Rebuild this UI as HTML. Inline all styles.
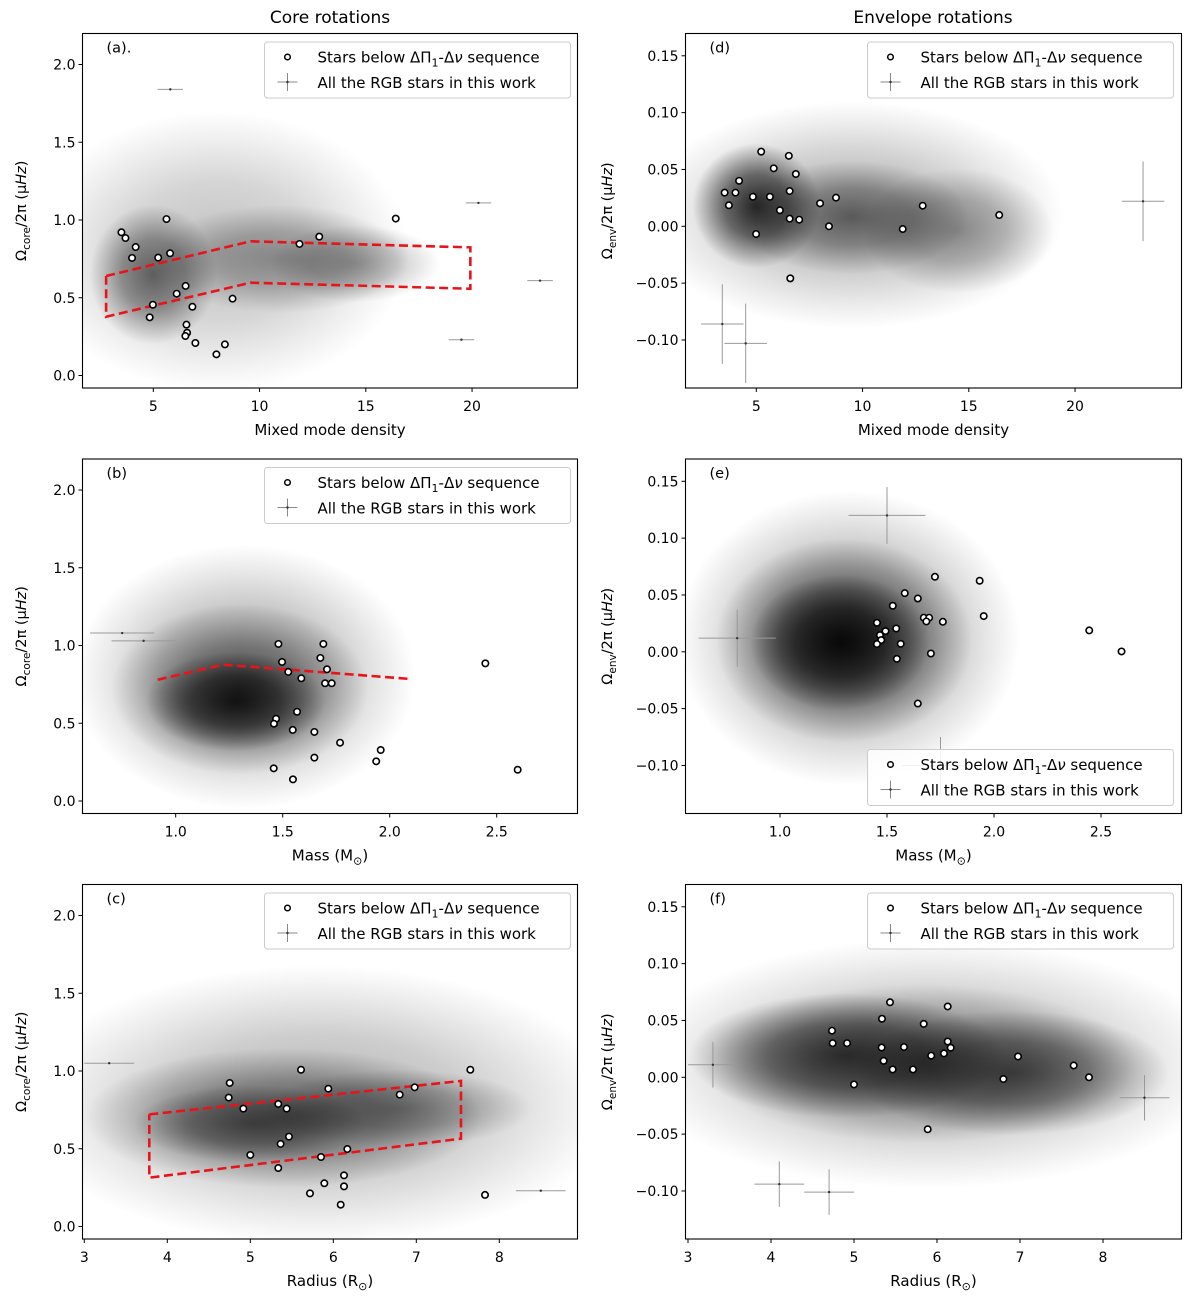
<!DOCTYPE html>
<html><head><meta charset="utf-8"><style>
html,body{margin:0;padding:0;background:#fff;}
svg{display:block;font-family:"DejaVu Sans","Liberation Sans",sans-serif;}
</style></head><body>
<svg id="fig" width="1200" height="1304" viewBox="0 0 1200 1304" xmlns="http://www.w3.org/2000/svg">
<defs>
<radialGradient id="blobGrad" cx="50%" cy="50%" r="50%">
<stop offset="0" stop-color="#000" stop-opacity="1"/>
<stop offset="0.5" stop-color="#000" stop-opacity="0.65"/>
<stop offset="0.8" stop-color="#000" stop-opacity="0.25"/>
<stop offset="1" stop-color="#000" stop-opacity="0"/>
</radialGradient>
</defs>
<text x="330" y="23" font-size="17" text-anchor="middle">Core rotations</text>
<text x="933" y="23" font-size="17" text-anchor="middle">Envelope rotations</text>
</svg>
<script>
// ---------- data ----------
const aStarsX = [3.5,3.69,4.17,4.0,5.62,5.23,5.79,6.1,6.52,4.98,6.84,4.83,8.73,6.56,6.59,6.51,6.98,8.37,7.97,11.88,12.81,16.41];
const aStarsY = [0.921,0.884,0.826,0.756,1.006,0.758,0.786,0.526,0.576,0.455,0.442,0.374,0.494,0.327,0.275,0.254,0.209,0.2,0.136,0.846,0.893,1.009];
const aBoundX = [2.78,9.58,19.92,19.92,9.58,2.78,2.78];
const aBoundY = [0.640,0.863,0.824,0.558,0.597,0.378,0.640];
const aCloudX = [8.0,5.0,11.0,14.5];
const aCloudY = [0.80,0.65,0.75,0.72];
const aCloudSX = [9.0,3.0,6.0,4.0];
const aCloudSY = [0.9,0.45,0.35,0.25];
const aCloudA = [0.25,0.55,0.35,0.3];
const aOutX = [23.2,20.3,19.5,5.8];
const aOutY = [0.61,1.11,0.23,1.84];

const bStarsX = [1.48,1.69,1.676,1.497,1.707,1.526,1.587,1.698,1.729,2.447,1.567,1.469,1.459,1.547,1.648,1.768,1.958,1.937,1.648,1.458,1.548,2.598];
const bStarsY = [1.01,1.01,0.92,0.894,0.847,0.83,0.789,0.757,0.757,0.885,0.574,0.529,0.497,0.457,0.444,0.375,0.328,0.255,0.279,0.21,0.139,0.201];
const bBoundX = [0.916,1.222,2.095];
const bBoundY = [0.78,0.877,0.785];
const bCloudX = [1.32,1.30,1.28];
const bCloudY = [0.80,0.72,0.64];
const bCloudSX = [0.8,0.6,0.42];
const bCloudSY = [0.85,0.55,0.32];
const bCloudA = [0.35,0.55,0.8];
const bOutX = [0.85,0.75];
const bOutY = [1.03,1.08];

const cStarsX = [5.611,7.651,4.752,5.94,6.98,6.8,4.74,4.916,5.337,5.438,5.466,5.365,6.169,5.0,5.852,5.337,6.129,5.892,6.129,5.719,7.828,6.089];
const cStarsY = [1.008,1.008,0.923,0.886,0.895,0.848,0.829,0.758,0.788,0.758,0.578,0.531,0.498,0.46,0.447,0.376,0.329,0.278,0.258,0.213,0.203,0.14];
const cBoundX = [3.783,7.538,7.538,3.783,3.783];
const cBoundY = [0.721,0.936,0.565,0.314,0.721];
const cCloudX = [5.8,5.4,5.0,6.8];
const cCloudY = [0.78,0.70,0.66,0.76];
const cCloudSX = [3.6,2.4,1.4,1.6];
const cCloudSY = [0.9,0.45,0.25,0.25];
const cCloudA = [0.3,0.5,0.45,0.35];
const cOutX = [3.3,8.5];
const cOutY = [1.05,0.23];

const dStarsX = [5.23,5.82,6.53,6.86,4.19,3.51,4.02,3.71,4.84,5.64,6.57,6.11,6.57,7.02,8.0,8.75,8.42,4.99,6.6,11.89,12.83,16.43];
const dStarsY = [0.0657,0.051,0.062,0.046,0.040,0.0296,0.0296,0.0185,0.026,0.026,0.031,0.0141,0.0067,0.0058,0.0202,0.0252,0.0,-0.0068,-0.0458,-0.0024,0.0181,0.0099];
const dCloudX = [9.5,5.0,9.5,14.5];
const dCloudY = [0.01,0.018,0.008,-0.004];
const dCloudSX = [10.0,3.0,5.5,4.5];
const dCloudSY = [0.1,0.055,0.05,0.055];
const dCloudA = [0.3,0.8,0.5,0.35];
const dOutX = [23.2,3.4,4.5];
const dOutY = [0.022,-0.086,-0.103];

const eStarsX = [1.724,1.933,1.583,1.644,1.527,1.672,1.697,1.684,1.761,1.952,1.453,1.543,1.493,1.467,1.473,1.453,1.564,1.705,1.546,1.644,2.445,2.596];
const eStarsY = [0.066,0.0625,0.0516,0.0469,0.0405,0.030,0.030,0.0267,0.0264,0.0314,0.0255,0.0205,0.0182,0.0147,0.0103,0.0068,0.007,-0.0015,-0.0062,-0.0455,0.0188,0.0003];
const eCloudX = [1.32,1.30,1.28];
const eCloudY = [0.012,0.010,0.008];
const eCloudSX = [0.8,0.6,0.42];
const eCloudSY = [0.13,0.09,0.06];
const eCloudA = [0.4,0.65,0.85];
const eOutX = [0.8,1.75,1.5];
const eOutY = [0.012,-0.1,0.12];

const fStarsX = [5.434,6.129,5.337,5.84,4.735,4.743,4.916,5.333,5.602,6.129,6.165,6.084,5.93,5.357,5.466,5.711,6.976,7.647,7.831,6.8,5.0,5.888];
const fStarsY = [0.066,0.0623,0.0515,0.047,0.041,0.030,0.030,0.0262,0.0266,0.0315,0.026,0.021,0.019,0.0145,0.0069,0.0069,0.0183,0.0104,0.0,-0.0015,-0.0063,-0.0457];
const fCloudX = [5.9,4.9,6.9,5.8];
const fCloudY = [0.012,0.019,0.004,0.012];
const fCloudSX = [3.6,1.9,1.9,2.6];
const fCloudSY = [0.11,0.055,0.055,0.07];
const fCloudA = [0.3,0.7,0.6,0.4];
const fOutX = [3.3,8.5,4.1,4.7];
const fOutY = [0.011,-0.018,-0.094,-0.101];

const leftTicks = ["0.0","0.5","1.0","1.5","2.0"];
const leftTickVals = [0,0.5,1.0,1.5,2.0];
const rightTicks = ["\u22120.10","\u22120.05","0.00","0.05","0.10","0.15"];
const rightTickVals = [-0.10,-0.05,0,0.05,0.10,0.15];
const mmdTicks = [5,10,15,20];
const massTicks = [1.0,1.5,2.0,2.5];
const radTicks = [3,4,5,6,7,8];

// ---------- rendering ----------
const NS = "http://www.w3.org/2000/svg";
const svg = document.getElementById("fig");
function mk(tag, attrs, parent){
  const e = document.createElementNS(NS, tag);
  for (const k in attrs) e.setAttribute(k, attrs[k]);
  (parent||svg).appendChild(e);
  return e;
}
const panels = [
 {id:"a",L:82.5,T:33.5,W:495,H:354.5,xv0:5,xp0:70.8,xk:21.25,yv0:0,yp0:342,yk:155.5,stars:[aStarsX,aStarsY],cloud:[aCloudX,aCloudY,aCloudSX,aCloudSY,aCloudA],out:[aOutX,aOutY],bound:[aBoundX,aBoundY],yt:leftTicks,ytv:leftTickVals,xt:mmdTicks,xfmt:v=>String(v),xlab:"Mixed mode density",ylab:"core",label:"(a).",legendBottom:false,hErr:0.6,vErr:0.0},
 {id:"d",L:685.5,T:33.5,W:496,H:354.5,xv0:5,xp0:70.8,xk:21.25,yv0:0,yp0:192.8,yk:1136.7,stars:[dStarsX,dStarsY],cloud:[dCloudX,dCloudY,dCloudSX,dCloudSY,dCloudA],out:[dOutX,dOutY],bound:null,yt:rightTicks,ytv:rightTickVals,xt:mmdTicks,xfmt:v=>String(v),xlab:"Mixed mode density",ylab:"env",label:"(d)",legendBottom:false,hErr:1.0,vErr:0.035},
 {id:"b",L:82.5,T:459,W:495,H:354.5,xv0:1,xp0:93.2,xk:214,yv0:0,yp0:342,yk:155.5,stars:[bStarsX,bStarsY],cloud:[bCloudX,bCloudY,bCloudSX,bCloudSY,bCloudA],out:[bOutX,bOutY],bound:[bBoundX,bBoundY],yt:leftTicks,ytv:leftTickVals,xt:massTicks,xfmt:v=>v.toFixed(1),xlab:"Mass (M",ylab:"core",label:"(b)",legendBottom:false,hErr:0.15,vErr:0.0},
 {id:"e",L:685.5,T:459,W:496,H:354.5,xv0:1,xp0:94.5,xk:214,yv0:0,yp0:192.8,yk:1136.7,stars:[eStarsX,eStarsY],cloud:[eCloudX,eCloudY,eCloudSX,eCloudSY,eCloudA],out:[eOutX,eOutY],bound:null,yt:rightTicks,ytv:rightTickVals,xt:massTicks,xfmt:v=>v.toFixed(1),xlab:"Mass (M",ylab:"env",label:"(e)",legendBottom:true,hErr:0.18,vErr:0.025},
 {id:"c",L:82.5,T:884.5,W:495,H:354.5,xv0:4,xp0:84.8,xk:83,yv0:0,yp0:342,yk:155.5,stars:[cStarsX,cStarsY],cloud:[cCloudX,cCloudY,cCloudSX,cCloudSY,cCloudA],out:[cOutX,cOutY],bound:[cBoundX,cBoundY],yt:leftTicks,ytv:leftTickVals,xt:radTicks,xfmt:v=>String(v),xlab:"Radius (R",ylab:"core",label:"(c)",legendBottom:false,hErr:0.3,vErr:0.0},
 {id:"f",L:685.5,T:884.5,W:496,H:354.5,xv0:4,xp0:85.5,xk:83,yv0:0,yp0:192.8,yk:1136.7,stars:[fStarsX,fStarsY],cloud:[fCloudX,fCloudY,fCloudSX,fCloudSY,fCloudA],out:[fOutX,fOutY],bound:null,yt:rightTicks,ytv:rightTickVals,xt:radTicks,xfmt:v=>String(v),xlab:"Radius (R",ylab:"env",label:"(f)",legendBottom:false,hErr:0.3,vErr:0.02}
];

panels.forEach(p => {
  const X = v => p.L + p.xp0 + (v - p.xv0) * p.xk;
  const Y = v => p.T + p.yp0 - (v - p.yv0) * p.yk;
  const g = mk("g", {});
  
  
  const cp = mk("clipPath", {id: "clip-" + p.id}, g);
  mk("rect", {x:p.L, y:p.T, width:p.W, height:p.H}, cp);
  const plot = mk("g", {"clip-path": "url(#clip-" + p.id + ")"}, g);
  
  

  const [cx, cy, sx, sy, ca] = p.cloud;
  cx.forEach((v, i) => {
    const el = mk("ellipse", {cx: X(v), cy: Y(cy[i]), rx: sx[i] * p.xk, ry: sy[i] * p.yk, fill: "url(#blobGrad)", opacity: ca[i]}, plot);
    
    
  });
  const [ox, oy] = p.out;
  ox.forEach((v, i) => {
    const px = X(v), py = Y(oy[i]);
    const hw = p.hErr * p.xk, vh = p.vErr * p.yk;
    const og = mk("g", {stroke: "#999", "stroke-width": 1}, plot);
    
    
    mk("line", {x1: px - hw, y1: py, x2: px + hw, y2: py}, og);
    if (vh > 0) mk("line", {x1: px, y1: py - vh, x2: px, y2: py + vh}, og);
    mk("circle", {cx: px, cy: py, r: 1.2, fill: "#333", stroke: "none"}, og);
  });
  if (p.bound) {
    const [bx, by] = p.bound;
    const pts = bx.map((v, i) => X(v) + "," + Y(by[i])).join(" ");
    const pl = mk("polyline", {points: pts, fill: "none", stroke: "#e8141b", "stroke-width": 2.6, "stroke-dasharray": "9,4.5"}, plot);
    
    
  }
  const [stx, sty] = p.stars;
  stx.forEach((v, i) => {
    const c = mk("circle", {cx: X(v), cy: Y(sty[i]), r: 3.2, fill: "#fff", stroke: "#000", "stroke-width": 1.6}, plot);
    
    
  });

  const fr = mk("rect", {x: p.L, y: p.T, width: p.W, height: p.H, fill: "none", stroke: "#000", "stroke-width": 1.1}, g);
  
  

  p.ytv.forEach((v, i) => {
    const py = Y(v);
    mk("line", {x1: p.L - 4, y1: py, x2: p.L, y2: py, stroke: "#000", "stroke-width": 1}, g);
    const t = mk("text", {x: p.L - 7, y: py + 5, "font-size": 14, "text-anchor": "end"}, g);
    t.textContent = p.yt[i];
    
    
  });
  p.xt.forEach(v => {
    const px = X(v);
    if (px < p.L - 1 || px > p.L + p.W + 1) return;
    mk("line", {x1: px, y1: p.T + p.H, x2: px, y2: p.T + p.H + 4, stroke: "#000", "stroke-width": 1}, g);
    const t = mk("text", {x: px, y: p.T + p.H + 23, "font-size": 14, "text-anchor": "middle"}, g);
    t.textContent = p.xfmt(v);
    
    
  });
  const xl = mk("text", {x: p.L + p.W / 2, y: p.T + p.H + 47, "font-size": 15, "text-anchor": "middle"}, g);
  
  
  if (p.xlab.endsWith("(M") || p.xlab.endsWith("(R")) {
    xl.appendChild(document.createTextNode(p.xlab));
    const s = mk("tspan", {"font-size": 11, dy: 4}, xl); s.textContent = "\u2299";
    const s2 = mk("tspan", {dy: -4}, xl); s2.textContent = ")";
  } else xl.textContent = p.xlab;
  const yx = p.L < 300 ? 26 : 612;
  const yl = mk("text", {x: yx, y: p.T + p.H / 2, "font-size": 14.5, "text-anchor": "middle", transform: "rotate(-90 " + yx + " " + (p.T + p.H / 2) + ")"}, g);
  
  
  yl.appendChild(document.createTextNode("\u03A9"));
  const sb = mk("tspan", {"font-size": 10.5, dy: 4}, yl); sb.textContent = p.ylab;
  const rest = mk("tspan", {dy: -4}, yl); rest.textContent = "/2\u03C0 (\u03BC";
  const it = mk("tspan", {"font-style": "italic"}, yl); it.textContent = "Hz";
  const cl = mk("tspan", {}, yl); cl.textContent = ")";
  const pl2 = mk("text", {x: p.L + 24, y: p.T + 19, "font-size": 14.5}, g);
  pl2.textContent = p.label;
  
  

  const lx = p.L + 182, lw = 306, lh = 56;
  const ly = p.legendBottom ? p.T + p.H - 64 : p.T + 8.5;
  const lg = mk("g", {}, g);
  
  
  mk("rect", {x: lx, y: ly, width: lw, height: lh, rx: 3, fill: "#fff", "fill-opacity": 0.85, stroke: "#ccc", "stroke-width": 1}, lg);
  const e1 = mk("circle", {cx: lx + 23, cy: ly + 15, r: 2.8, fill: "#fff", stroke: "#000", "stroke-width": 1.5}, lg);
  
  
  const t1 = mk("text", {x: lx + 53, y: ly + 20.5, "font-size": 15}, lg);
  t1.textContent = "Stars below \u0394\u03A0";
  
  
  const t1s = mk("tspan", {"font-size": 11, dy: 4}, t1); t1s.textContent = "1";
  const t1r = mk("tspan", {dy: -4}, t1); t1r.textContent = "-\u0394";
  const t1n = mk("tspan", {"font-style": "italic"}, t1); t1n.textContent = "\u03BD";
  const t1e = mk("tspan", {}, t1); t1e.textContent = " sequence";
  const eg = mk("g", {stroke: "#888", "stroke-width": 1}, lg);
  
  
  mk("line", {x1: lx + 13, y1: ly + 40, x2: lx + 33, y2: ly + 40}, eg);
  mk("line", {x1: lx + 23, y1: ly + 31, x2: lx + 23, y2: ly + 49}, eg);
  mk("circle", {cx: lx + 23, cy: ly + 40, r: 1.2, fill: "#333", stroke: "none"}, eg);
  const t2 = mk("text", {x: lx + 53, y: ly + 46, "font-size": 15}, lg);
  t2.textContent = "All the RGB stars in this work";
  
  
});
</script>
</body></html>
